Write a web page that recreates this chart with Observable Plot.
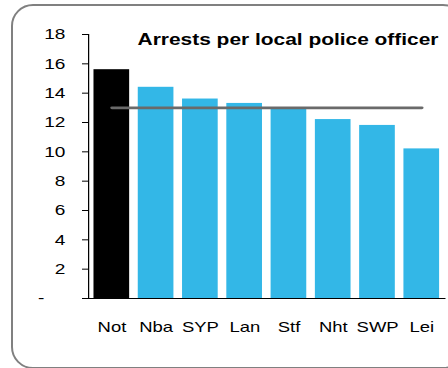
<!DOCTYPE html>
<html>
<head>
<meta charset="utf-8">
<script src="https://cdn.jsdelivr.net/npm/d3@7"></script>
<script src="https://cdn.jsdelivr.net/npm/@observablehq/plot@0.6"></script>
<style>
  html, body { margin: 0; padding: 0; background: #fff; }
  #wrap { position: relative; width: 448px; height: 368px; overflow: hidden; font-family: "Liberation Sans", Arial, sans-serif; }
  #border { position: absolute; left: 11px; top: 4px; width: 450px; height: 361px; border: 2px solid #808080; border-radius: 22px; box-sizing: content-box; pointer-events: none; }
  #chart { position: absolute; left: 0; top: 0; }
  #chart svg { transform: scaleX(1.23); transform-origin: 0 0; }
</style>
</head>
<body>
<div id="wrap"><div id="chart"></div><div id="border"></div></div>
<script>
const categories = ["Not", "Nba", "SYP", "Lan", "Stf", "Nht", "SWP", "Lei"];
const arrests = [15.6, 14.4, 13.6, 13.3, 12.9, 12.2, 11.8, 10.2];
const average = [13.0, 13.0, 13.0, 13.0, 13.0, 13.0, 13.0, 13.0];
const highlight = ["Not"];
const yTicks = [0, 2, 4, 6, 8, 10, 12, 14, 16, 18];
const title = "Arrests per local police officer";

const data = categories.map((c, i) => ({cat: c, value: arrests[i], avg: average[i]}));

// The reference is drawn horizontally stretched; the SVG is laid out at 448/1.23 wide and scaled by CSS.
const sx = 1.23;
const W = 448 / sx;

const chart = Plot.plot({
  width: W,
  height: 368,
  marginLeft: 88 / sx,
  marginRight: W - 445.5 / sx,
  marginTop: 34,
  marginBottom: 70,
  style: {fontFamily: "'Liberation Sans', Arial, sans-serif", background: "transparent", overflow: "visible"},
  x: {domain: categories, paddingInner: 0.19, paddingOuter: 0.095, label: null},
  y: {domain: [0, 18], label: null},
  marks: [
    Plot.axisY({ticks: yTicks, tickSize: 6 / sx, tickPadding: 14, fontSize: 15.5, stroke: "#000",
      tickFormat: d => d === 0 ? "-\u00a0\u00a0\u00a0\u00a0" : String(d), fill: "#000"}),
    Plot.axisX({tickSize: 0, tickPadding: 23, fontSize: 15, fill: "#000"}),
    Plot.barY(data, {x: "cat", y: "value", fill: d => highlight.includes(d.cat) ? "#000000" : "#33B7E7"}),
    Plot.frame({anchor: "left", stroke: "#000"}),
    Plot.ruleY([0], {stroke: "#000"}),
    Plot.lineY(data, {x: "cat", y: "avg", stroke: "#6a6a6a", strokeWidth: 2.7}),
    Plot.text([title], {frameAnchor: "top-left", dx: 137 / sx - 88 / sx, dy: -1.5, lineAnchor: "top", textAnchor: "start",
      fontSize: 17, fontWeight: "bold", fill: "#000"})
  ]
});
document.getElementById("chart").appendChild(chart);
</script>
</body>
</html>
